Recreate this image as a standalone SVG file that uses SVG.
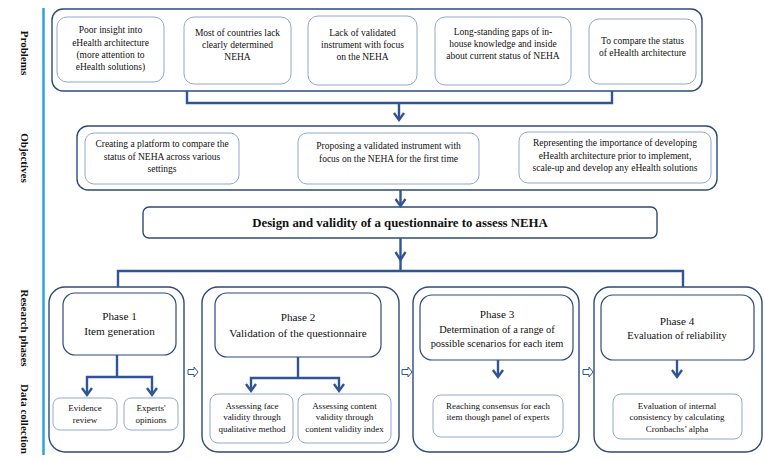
<svg xmlns="http://www.w3.org/2000/svg" width="765" height="462" viewBox="0 0 765 462">
<style>
text{font-family:"Liberation Serif","Times New Roman",serif;fill:#111;text-anchor:middle}
.lab{font-weight:bold;font-size:11px}
.t{font-size:9.5px}
.s{font-size:9px}
.h{font-size:11.2px}
.h3{font-size:10.4px}
.outer{fill:#fff;stroke:#2d4a7b;stroke-width:1.4}
.inner{fill:#fff;stroke:#92a8cf;stroke-width:1}
.hdr{fill:#fff;stroke:#2d4a7b;stroke-width:1.2}
.c{fill:none;stroke:#2f5597;stroke-width:2.4}
.ah{fill:none;stroke:#2f5597;stroke-width:2.4;stroke-linejoin:miter}
.ph{fill:#fff;stroke:#2f5597;stroke-width:1}
</style>
<rect width="765" height="462" fill="#fff"/>
<line x1="43.5" y1="8" x2="43.5" y2="455" stroke="#27a6dd" stroke-width="2.5"/>
<g id="labels">
<text class="lab" transform="translate(20.5,53) rotate(90)">Problems</text>
<text class="lab" transform="translate(20.5,158) rotate(90)">Objectives</text>
<text class="lab" transform="translate(20.5,328) rotate(90)">Research phases</text>
<text class="lab" transform="translate(20.5,419) rotate(90)">Data collection</text>
</g>
<g id="problems">
<rect class="outer" x="52" y="9" width="650" height="82" rx="11"/>
<g id="p1"><rect class="inner" x="57" y="17" width="107" height="65" rx="10"/>
<text class="t" x="110.5" y="33">Poor insight into</text><text class="t" x="110.5" y="45.5">eHealth architecture</text><text class="t" x="110.5" y="58">(more attention to</text><text class="t" x="110.5" y="70">eHealth solutions)</text></g>
<g id="p2"><rect class="inner" x="184" y="17" width="107" height="67" rx="10"/>
<text class="t" x="237.5" y="36">Most of countries lack</text><text class="t" x="237.5" y="48">clearly determined</text><text class="t" x="237.5" y="60">NEHA</text></g>
<g id="p3"><rect class="inner" x="308" y="16" width="109" height="69" rx="10"/>
<text class="t" x="362.5" y="36">Lack of validated</text><text class="t" x="362.5" y="48">instrument with focus</text><text class="t" x="362.5" y="60">on the NEHA</text></g>
<g id="p4"><rect class="inner" x="435" y="17" width="136" height="68" rx="10"/>
<text class="t" x="503" y="35">Long-standing gaps of in-</text><text class="t" x="503" y="47">house knowledge and inside</text><text class="t" x="503" y="59">about current status of NEHA</text></g>
<g id="p5"><rect class="inner" x="589" y="19" width="107" height="65" rx="10"/>
<text class="t" x="642.5" y="44">To compare the status</text><text class="t" x="642.5" y="56">of eHealth architecture</text></g>
</g>
<g id="objectives">
<rect class="outer" x="77" y="126" width="640" height="64" rx="11"/>
<g id="o1"><rect class="inner" x="85" y="133" width="154" height="51" rx="9"/>
<text class="t" x="162" y="147">Creating a platform to compare the</text><text class="t" x="162" y="159.5">status of NEHA across various</text><text class="t" x="162" y="172">settings</text></g>
<g id="o2"><rect class="inner" x="298" y="133" width="181" height="51" rx="9"/>
<text class="t" x="388.5" y="149">Proposing a validated instrument with</text><text class="t" x="388.5" y="162">focus on the NEHA for the first time</text></g>
<g id="o3"><rect class="inner" x="519" y="132" width="192" height="51" rx="9"/>
<text class="t" x="615" y="146">Representing the importance of developing</text><text class="t" x="615" y="158.5">eHealth architecture prior to implement,</text><text class="t" x="615" y="170.5">scale-up and develop any eHealth solutions</text></g>
</g>
<g id="design">
<rect class="outer" x="143" y="207" width="514" height="31" rx="6"/>
<text x="400" y="226.5" style="font-size:12.8px;font-weight:bold">Design and validity of a questionnaire to assess NEHA</text>
</g>
<g id="phase1">
<rect class="outer" x="49" y="287" width="135" height="165" rx="16"/>
<rect class="hdr" x="63" y="293" width="113" height="62" rx="12"/>
<text class="h" x="119.5" y="320">Phase 1</text><text class="h" x="119.5" y="335">Item generation</text>
<g id="ev"><rect class="inner" x="53" y="398" width="64" height="32" rx="7"/>
<text class="s" x="85" y="411">Evidence</text><text class="s" x="85" y="423">review</text></g>
<g id="ex"><rect class="inner" x="124" y="398" width="54" height="32" rx="7"/>
<text class="s" x="151" y="411">Experts'</text><text class="s" x="151" y="423">opinions</text></g>
</g>
<g id="phase2">
<rect class="outer" x="202" y="287" width="197" height="165" rx="16"/>
<rect class="hdr" x="215" y="293" width="166" height="64" rx="12"/>
<text class="h" x="298" y="321">Phase 2</text><text class="h" x="298" y="337">Validation of the questionnaire</text>
<g id="fv"><rect class="inner" x="210" y="394" width="83" height="49" rx="8"/>
<text class="s" x="252" y="409">Assessing face</text><text class="s" x="252" y="420">validity through</text><text class="s" x="252" y="431.5">qualitative method</text></g>
<g id="cv"><rect class="inner" x="298" y="394" width="93" height="49" rx="8"/>
<text class="s" x="344.5" y="409">Assessing content</text><text class="s" x="344.5" y="420">validity through</text><text class="s" x="344.5" y="431.5">content validity index</text></g>
</g>
<g id="phase3">
<rect class="outer" x="413" y="287" width="166" height="165" rx="16"/>
<rect class="hdr" x="420" y="295" width="153" height="65" rx="12"/>
<text class="h" x="497" y="318">Phase 3</text><text class="h3" x="497" y="333">Determination of a range of</text><text class="h3" x="497" y="346.5">possible scenarios for each item</text>
<g id="rc"><rect class="inner" x="433" y="395" width="130" height="42" rx="8"/>
<text class="s" x="498" y="409">Reaching consensus for each</text><text class="s" x="498" y="420">item though panel of experts</text></g>
</g>
<g id="phase4">
<rect class="outer" x="594" y="287" width="168" height="165" rx="16"/>
<rect class="hdr" x="601" y="295" width="153" height="65" rx="12"/>
<text class="h" x="677" y="325">Phase 4</text><text class="h3" x="677" y="339">Evaluation of reliability</text>
<g id="ic"><rect class="inner" x="613" y="394" width="129" height="45" rx="8"/>
<text class="s" x="677" y="409">Evaluation of internal</text><text class="s" x="677" y="420">consistency by calculating</text><text class="s" x="677" y="431.5">Cronbachs’ alpha</text></g>
</g>
<g id="connectors">
<path class="c" d="M187 91 V103 H612 V91"/>
<path class="c" d="M399 103 V120"/>
<path class="ah" d="M394 113 L399 120 L404 113"/>
<path class="c" d="M400.5 190 V206"/>
<path class="ah" d="M395.5 199 L400.5 206 L405.5 199"/>
<path class="c" d="M400.5 238 V271"/>
<path class="ah" d="M395.5 252 L400.5 260 L405.5 252"/>
<path class="c" d="M118 287 V271 H683 V287"/>
<path class="c" d="M117 355 V377"/>
<path class="c" d="M87 394 V377 H152 V394"/>
<path class="ah" d="M82 388 L87 395 L92 388"/>
<path class="ah" d="M147 388 L152 395 L157 388"/>
<path class="c" d="M298 357 V378"/>
<path class="c" d="M251 390 V378 H339 V390"/>
<path class="ah" d="M246 384 L251 391 L256 384"/>
<path class="ah" d="M334 384 L339 391 L344 384"/>
<path class="c" d="M498 360 V377"/>
<path class="ah" d="M493 370 L498 377 L503 370"/>
<path class="c" d="M677 360 V377"/>
<path class="ah" d="M672 370 L677 377 L682 370"/>
<polygon class="ph" points="188,369.5 194,369.5 194,367 198,372 194,377 194,374.5 188,374.5"/>
<polygon class="ph" points="402,369.5 408,369.5 408,367 412,372 408,377 408,374.5 402,374.5"/>
<polygon class="ph" points="583,369.5 589,369.5 589,367 593,372 589,377 589,374.5 583,374.5"/>
</g>
</svg>
